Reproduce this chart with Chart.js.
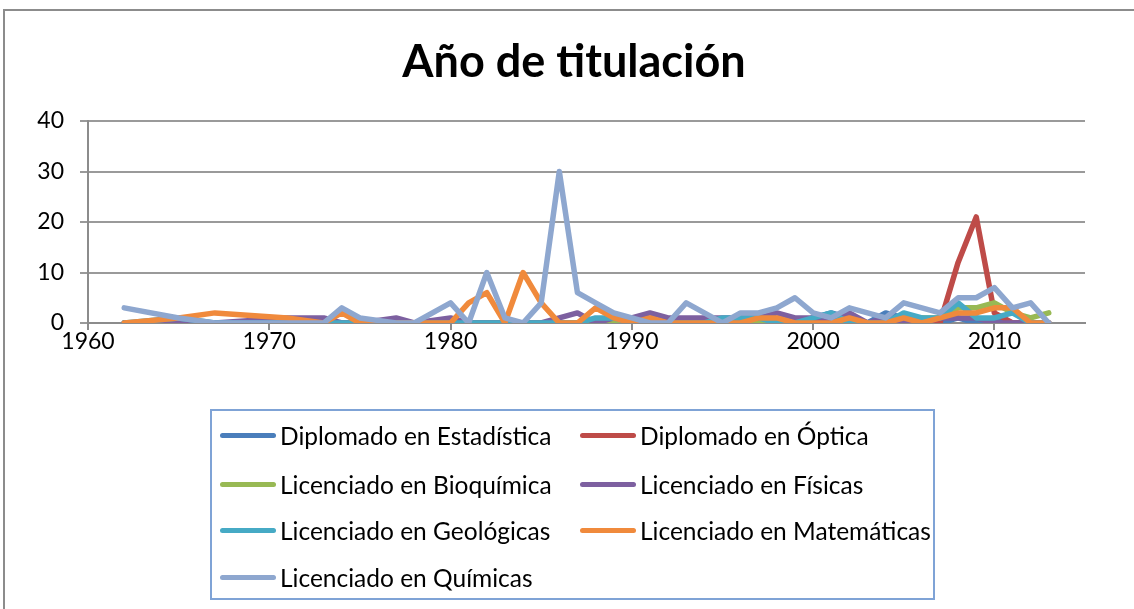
<!DOCTYPE html>
<html><head><meta charset="utf-8">
<script src="https://cdn.jsdelivr.net/npm/chart.js@4/dist/chart.umd.min.js"></script>
<style>
html,body{margin:0;padding:0;background:#fff;width:1134px;height:609px;overflow:hidden}
#wrap{position:relative;width:1134px;height:609px}
#frame{position:absolute;left:3px;top:9px;width:1200px;height:700px;border:2px solid #8c8c8c;box-sizing:border-box}
#c{position:absolute;left:0;top:0}
#legend{position:absolute;left:210px;top:409px;width:725px;height:191px;border:2px solid #7fa3d6;box-sizing:border-box;font-family:Lato,"Liberation Sans",sans-serif;font-size:24.5px;color:#000}
.item{position:absolute;height:30px;display:flex;align-items:center;white-space:nowrap}
.sw{width:56px;height:5px;border-radius:3px;margin-right:4px}
</style></head>
<body><div id="wrap"><div id="frame"></div><canvas id="c" width="1134" height="609"></canvas><div id="legend"></div></div>
<script>
const years = [1962,1965,1967,1971,1973,1974,1975,1977,1978,1980,1981,1982,1983,1984,1985,1986,1987,1988,1989,1990,1991,1992,1993,1994,1995,1996,1997,1998,1999,2000,2001,2002,2003,2004,2005,2006,2007,2008,2009,2010,2011,2012,2013];
const seriesNames = ["Diplomado en Estadística","Diplomado en Óptica","Licenciado en Bioquímica","Licenciado en Físicas","Licenciado en Geológicas","Licenciado en Matemáticas","Licenciado en Químicas"];
const estadistica = [0,0,0,0,0,0,0,0,0,0,0,0,0,0,0,0,0,0,0,0,0,0,0,0,0,0,0,0,0,1,2,1,0,2,1,1,0,1,0,1,0,0,0];
const optica      = [0,0,0,0,0,0,0,0,0,0,0,0,0,0,0,0,0,0,0,0,0,0,0,0,0,0,0,0,0,0,0,0,0,0,0,0,0,12,21,2,0,0,0];
const bioquimica  = [0,0,0,0,0,0,0,0,0,0,0,0,0,0,0,0,0,0,0,0,0,0,0,0,0,0,0,0,0,0,0,0,0,0,1,1,1,3,3,4,2,1,2];
const fisicas     = [0,0,0,1,1,0,0,1,0,1,0,0,0,0,0,1,2,0,1,1,2,1,1,1,1,1,1,2,1,1,0,2,0,1,0,0,1,1,1,0,0,0,0];
const geologicas  = [0,1,0,0,0,0,0,0,0,0,0,0,0,0,0,0,0,1,1,0,0,0,0,0,1,1,1,0,0,1,2,0,0,0,2,1,1,4,1,1,2,0,0];
const matematicas = [0,1,2,1,0,2,0,0,0,0,4,6,0,10,4,0,0,3,1,0,1,0,0,0,0,0,1,1,0,0,0,1,0,0,1,0,1,2,2,3,3,0,0];
const quimicas    = [3,1,0,0,0,3,1,0,0,4,0,10,1,0,4,30,6,4,2,1,0,0,4,2,0,2,2,3,5,2,1,3,2,1,4,3,2,5,5,7,3,4,0];
const yTicks = [0,10,20,30,40];
const xTicks = [1960,1970,1980,1990,2000,2010];
const colors = ["#4A7EBB","#BE4B48","#98B954","#7D60A0","#46AAC5","#F08A3C","#8EA7CF"];
const seriesValues = [estadistica,optica,bioquimica,fisicas,geologicas,matematicas,quimicas];

const datasets = seriesNames.map((name,i)=>({
  label:name,
  data: years.map((y,j)=>({x:y,y:seriesValues[i][j]})),
  borderColor:colors[i], backgroundColor:colors[i],
  borderWidth:5.5, pointRadius:0, tension:0,
  borderCapStyle:'round', borderJoinStyle:'round',
  order: seriesNames.length-1-i
}));

new Chart(document.getElementById('c'),{
  type:'line',
  data:{datasets},
  options:{
    responsive:false, animation:false,
    layout:{padding:{left:14,right:0,top:0,bottom:256}},
    plugins:{
      legend:{display:false},
      tooltip:{enabled:false},
      title:{display:true,text:'Año de titulación',color:'#000',
        font:{family:'Lato',size:45,weight:'bold'},padding:{top:35,bottom:32}}
    },
    scales:{
      x:{type:'linear',min:1960,max:2015,
        afterFit:(s)=>{s.height=30;},
        afterBuildTicks:(s)=>{s.ticks=xTicks.map(v=>({value:v}));},
        ticks:{color:'#000',font:{family:'Lato',size:23},padding:-2,maxRotation:0,callback:(v)=>String(v)},
        grid:{drawOnChartArea:false,color:'#8c8c8c',lineWidth:2,tickLength:7},
        border:{color:'#8c8c8c',width:2}},
      y:{min:0,max:40,
        afterFit:(s)=>{s.width=74;},
        afterBuildTicks:(s)=>{s.ticks=yTicks.map(v=>({value:v}));},
        ticks:{color:'#000',font:{family:'Lato',size:23},padding:16},
        grid:{color:'#9a9a9a',lineWidth:2,tickLength:8},
        border:{color:'#8c8c8c',width:2}},
      spacer:{position:'right',display:true,min:0,max:1,
        afterFit:(s)=>{s.width=49;},
        ticks:{display:false},grid:{display:false},border:{display:false}}
    }
  }
});

const leg=document.getElementById('legend');
const colX=[8,368], rowY=[9,58,104,151];
seriesNames.forEach((name,i)=>{
  const d=document.createElement('div');d.className='item';
  d.style.left=colX[i%2]+'px';d.style.top=rowY[Math.floor(i/2)]+'px';
  const sw=document.createElement('span');sw.className='sw';sw.style.background=colors[i];
  const t=document.createElement('span');t.textContent=name;
  d.appendChild(sw);d.appendChild(t);leg.appendChild(d);
});
</script></body></html>
